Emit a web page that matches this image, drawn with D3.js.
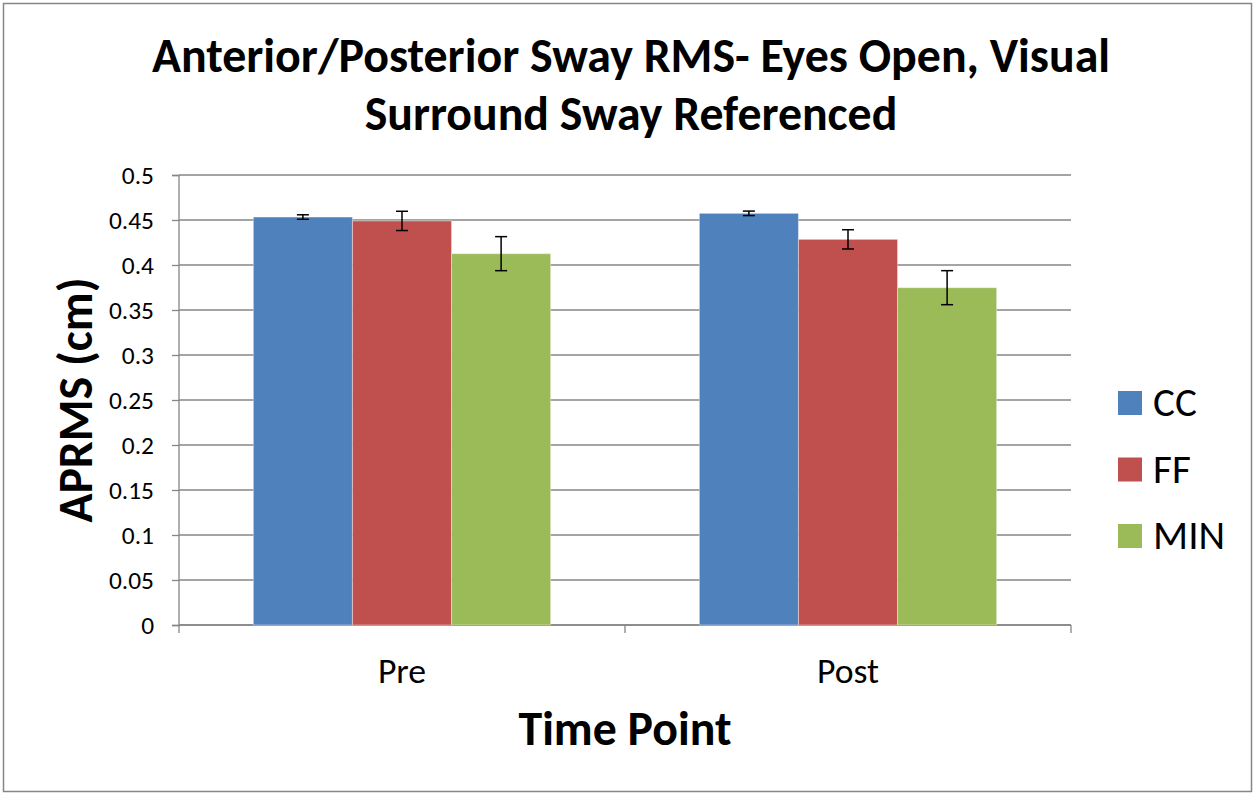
<!DOCTYPE html>
<html>
<head>
<meta charset="utf-8">
<script src="https://cdn.jsdelivr.net/npm/d3@7"></script>
<style>
  body { margin: 0; background: #fff; }
  text { font-family: Carlito, "Open Sans", "Liberation Sans", sans-serif; fill: #000; }
</style>
</head>
<body>
<script>
// chart data
let timePoints = ["Pre", "Post"];
let groups = ["CC", "FF", "MIN"];
let groupColors = ["#4F81BD", "#C0504D", "#9BBB59"];
let meanValues = {
  CC: [0.4533, 0.4574],
  FF: [0.4490, 0.4285],
  MIN: [0.4126, 0.3748]
};
let errorValues = {
  CC: [0.0025, 0.0025],
  FF: [0.0107, 0.0107],
  MIN: [0.0189, 0.0189]
};
let yTicks = [0, 0.05, 0.1, 0.15, 0.2, 0.25, 0.3, 0.35, 0.4, 0.45, 0.5];

let width = 1253;
let height = 794;

// plot area
let margins = { top: 175, right: 182, bottom: 169, left: 179 };
let chart_width = width - margins.left - margins.right;
let chart_height = height - margins.top - margins.bottom;

// scale a text's font size so it spans the wanted width
function fitText(sel, target) {
  let node = sel.node();
  let size = parseFloat(sel.style("font-size"));
  let len = node.getComputedTextLength();
  sel.style("font-size", (size * target / len).toFixed(1) + "px");
  return size * target / len;
}

let svg = d3.select("body")
  .append("svg")
  .attr("width", width)
  .attr("height", height);

// outer frame
svg.append("rect")
  .attr("x", 3.5).attr("y", 3.5)
  .attr("width", width - 5).attr("height", height - 6)
  .attr("fill", "#fff")
  .attr("stroke", "#868686")
  .attr("stroke-width", 1.5);

let chart_group = svg.append("g")
  .attr("transform", `translate(${margins.left}, ${margins.top})`);

let x = d3.scaleBand()
  .domain(timePoints)
  .range([0, chart_width]);

let x1 = d3.scaleBand()
  .domain(groups)
  .range([0, x.bandwidth()])
  .paddingOuter(0.75)
  .paddingInner(0);

let y = d3.scaleLinear()
  .domain([0, 0.5])
  .range([chart_height, 0]);

// gridlines
chart_group.append("g")
  .selectAll("line")
  .data(yTicks)
  .enter()
  .append("line")
  .attr("x1", 0)
  .attr("x2", chart_width)
  .attr("y1", d => y(d))
  .attr("y2", d => y(d))
  .attr("stroke", "#868686")
  .attr("stroke-width", 1.3);

// y axis
let y_axis = d3.axisLeft(y)
  .tickValues(yTicks)
  .tickSize(7)
  .tickPadding(18)
  .tickFormat(d => d3.format("")(+d.toFixed(2)));

let yg = chart_group.append("g").call(y_axis);
yg.selectAll("path, line").attr("stroke", "#868686").attr("stroke-width", 1.3);
yg.select(".domain").attr("d", `M-7,${chart_height + 0.5}H0V0.5H-7`);
yg.selectAll("text")
  .style("font-size", "20px")
  .style("font-family", "Carlito, 'Open Sans', 'Liberation Sans', sans-serif")
  .attr("fill", "#000");
let tickSize = fitText(yg.selectAll("text").filter(d => d === 0.45), 45);
yg.selectAll("text").style("font-size", tickSize.toFixed(1) + "px");

// x axis
let xg = chart_group.append("g")
  .attr("transform", `translate(0, ${chart_height})`);
xg.append("line")
  .attr("x1", 0).attr("x2", chart_width)
  .attr("stroke", "#868686").attr("stroke-width", 1.3);
xg.selectAll(".xtick")
  .data([0, x.bandwidth(), chart_width])
  .enter()
  .append("line")
  .attr("x1", d => d).attr("x2", d => d)
  .attr("y1", 0).attr("y2", 8)
  .attr("stroke", "#868686").attr("stroke-width", 1.3);
let xlabels = xg.selectAll(".xlabel")
  .data(timePoints)
  .enter()
  .append("text")
  .attr("x", d => x(d) + x.bandwidth() / 2)
  .attr("y", 58)
  .attr("text-anchor", "middle")
  .style("font-size", "27px")
  .text(d => d);
let xlSize = fitText(xlabels.filter(d => d === "Post"), 62);
xlabels.style("font-size", xlSize.toFixed(1) + "px");

// bars
let barData = [];
timePoints.forEach(function(tp, i) {
  groups.forEach(function(g, j) {
    barData.push({ tp: tp, group: g, value: meanValues[g][i], err: errorValues[g][i], color: groupColors[j] });
  });
});

chart_group.selectAll(".bar")
  .data(barData)
  .enter()
  .append("rect")
  .classed("bar", true)
  .attr("x", d => x(d.tp) + x1(d.group))
  .attr("width", x1.bandwidth())
  .attr("y", d => y(d.value))
  .attr("height", d => chart_height - y(d.value))
  .attr("fill", d => d.color)
  .attr("stroke", "#fff")
  .attr("stroke-opacity", 0.4)
  .attr("stroke-width", 1);

// error bars
let err = chart_group.selectAll(".err")
  .data(barData)
  .enter()
  .append("g")
  .attr("transform", d => `translate(${x(d.tp) + x1(d.group) + x1.bandwidth() / 2}, 0)`);
err.append("line")
  .attr("y1", d => y(d.value + d.err))
  .attr("y2", d => y(d.value - d.err))
  .attr("stroke", "#000").attr("stroke-width", 1.5);
err.append("line")
  .attr("x1", -6).attr("x2", 6)
  .attr("y1", d => y(d.value + d.err))
  .attr("y2", d => y(d.value + d.err))
  .attr("stroke", "#000").attr("stroke-width", 1.5);
err.append("line")
  .attr("x1", -6).attr("x2", 6)
  .attr("y1", d => y(d.value - d.err))
  .attr("y2", d => y(d.value - d.err))
  .attr("stroke", "#000").attr("stroke-width", 1.5);

// title
let t1 = svg.append("text")
  .attr("x", 631).attr("y", 72)
  .attr("text-anchor", "middle")
  .style("font-size", "40px")
  .style("font-weight", "bold")
  .text("Anterior/Posterior Sway RMS- Eyes Open, Visual");
fitText(t1, 958);
let t2 = svg.append("text")
  .attr("x", 631).attr("y", 130)
  .attr("text-anchor", "middle")
  .style("font-size", "40px")
  .style("font-weight", "bold")
  .text("Surround Sway Referenced");
fitText(t2, 533);

// axis titles
let xt = svg.append("text")
  .attr("x", 625).attr("y", 745)
  .attr("text-anchor", "middle")
  .style("font-size", "38px")
  .style("font-weight", "bold")
  .text("Time Point");
fitText(xt, 213);

let yt = svg.append("text")
  .attr("transform", "translate(92, 400) rotate(-90)")
  .attr("text-anchor", "middle")
  .style("font-size", "38px")
  .style("font-weight", "bold")
  .text("APRMS (cm)");
fitText(yt, 245);

// legend
let legend = svg.selectAll(".legend")
  .data(groups)
  .enter()
  .append("g")
  .attr("transform", (d, i) => `translate(1118, ${391 + i * 66.5})`);
legend.append("rect")
  .attr("width", 24).attr("height", 24)
  .attr("fill", (d, i) => groupColors[i]);
let legText = legend.append("text")
  .attr("x", 35).attr("y", 25)
  .style("font-size", "33px")
  .text(d => d);
let legSize = fitText(legText.filter(d => d === "MIN"), 72);
legText.style("font-size", legSize.toFixed(1) + "px");
</script>
</body>
</html>
